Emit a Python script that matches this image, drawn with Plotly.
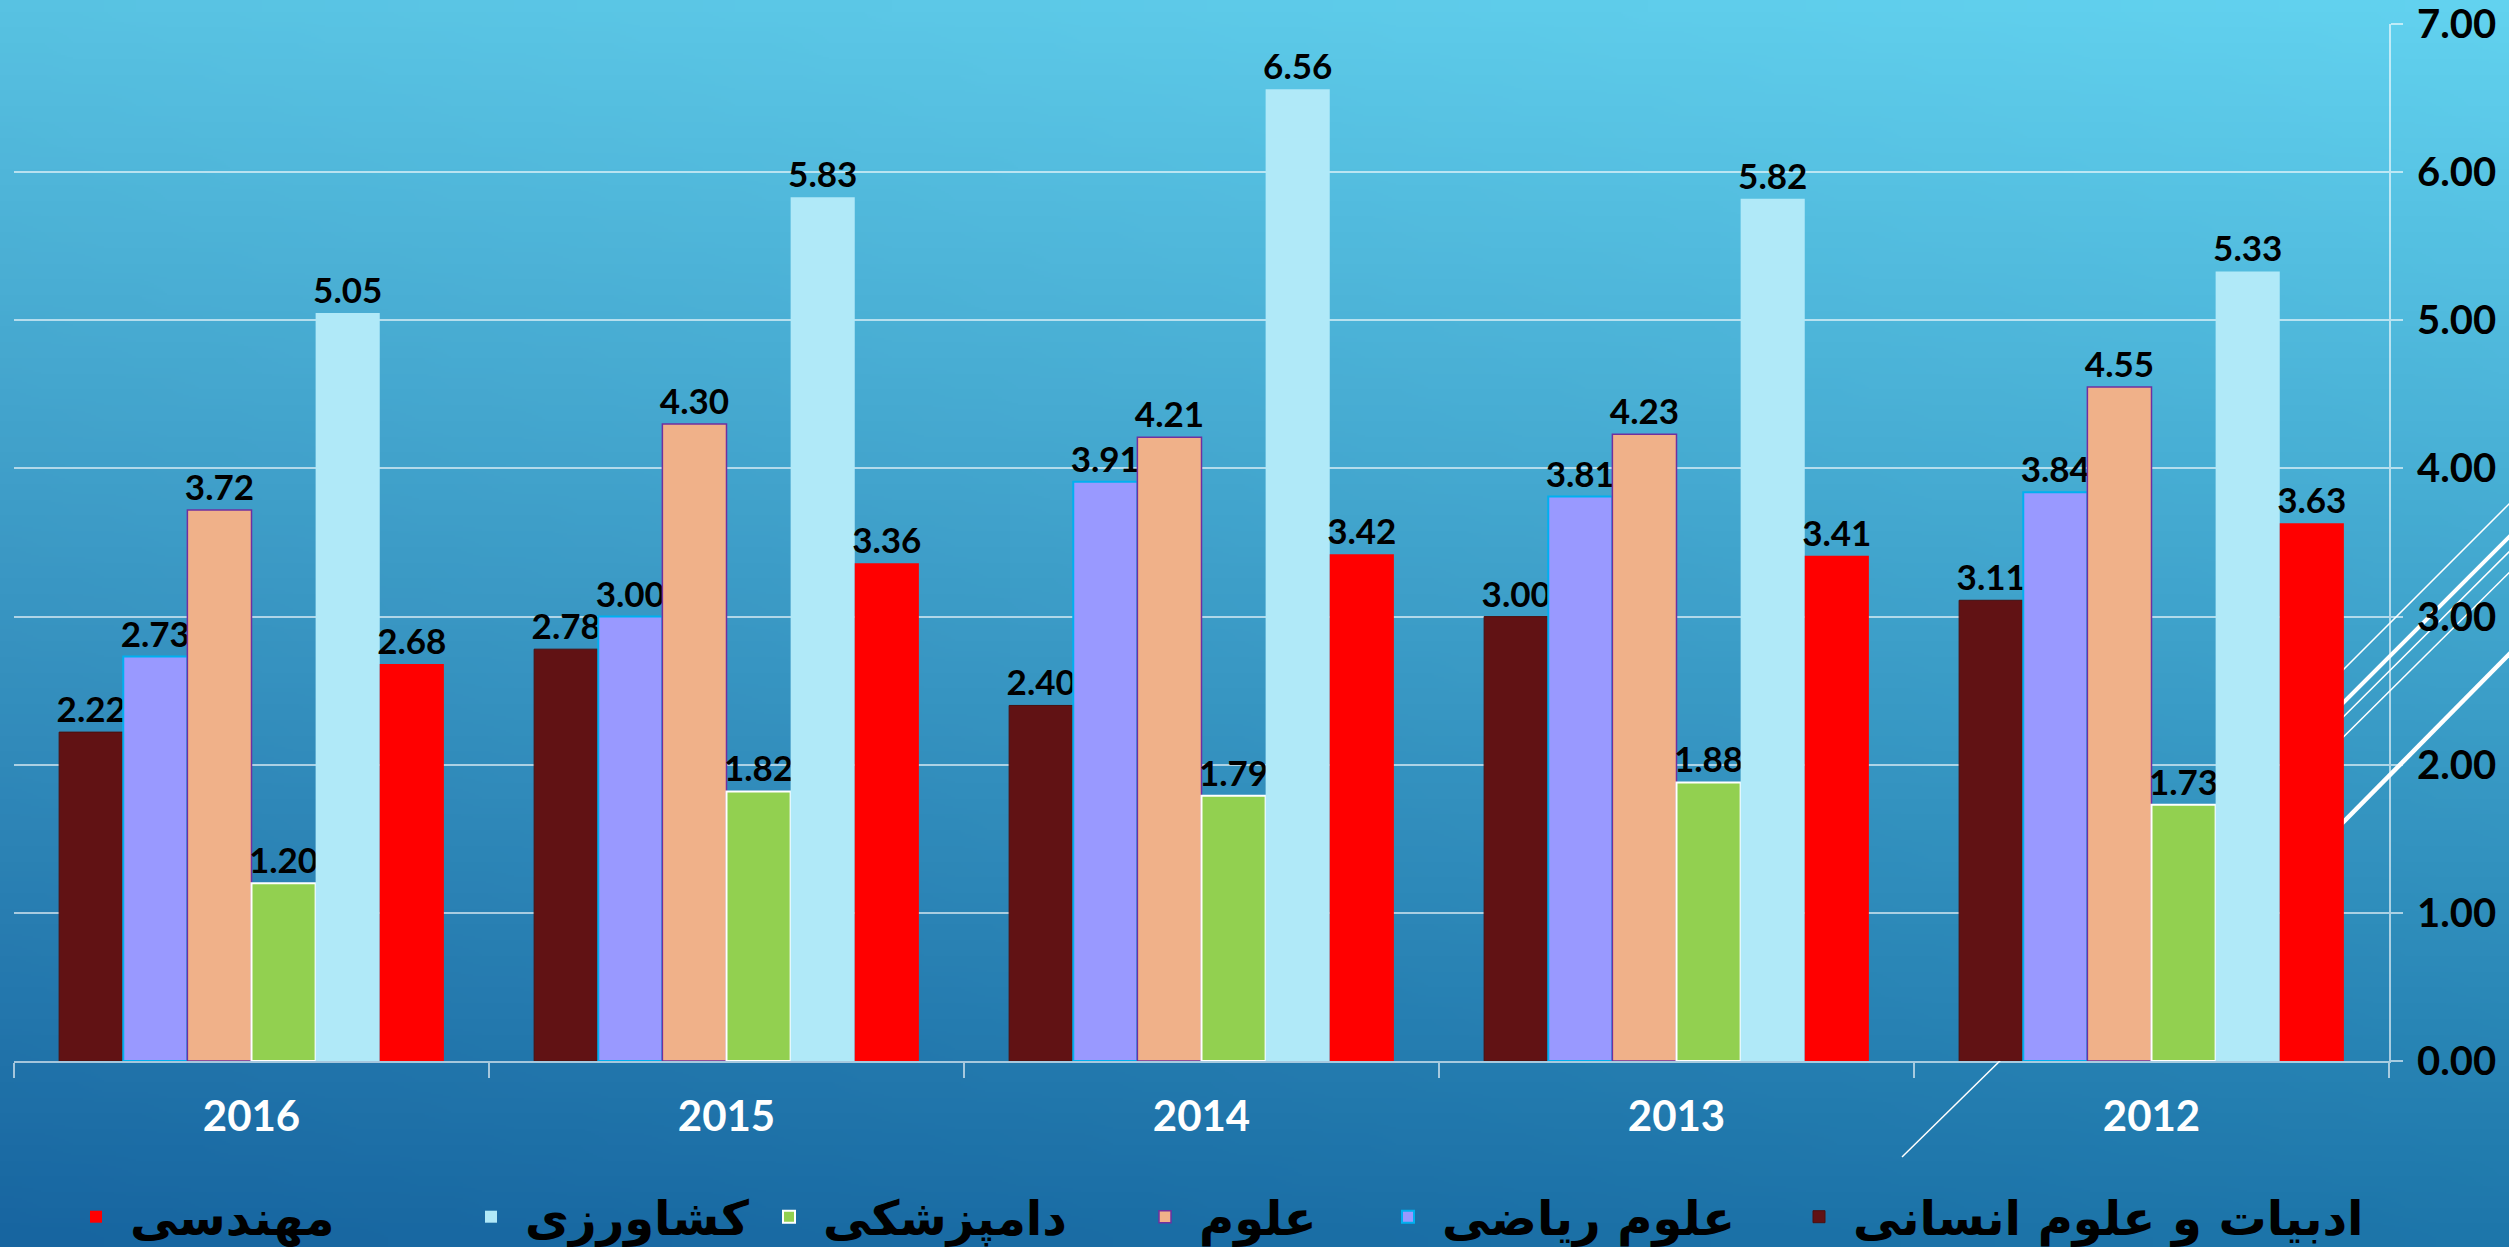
import zlib, struct, base64
import plotly.graph_objects as go

# ---------------- data ----------------
years = ["2016", "2015", "2014", "2013", "2012"]
adabiyat = [2.22, 2.78, 2.40, 3.00, 3.11]
riyazi = [2.73, 3.00, 3.91, 3.81, 3.84]
olum = [3.72, 4.30, 4.21, 4.23, 4.55]
dampezeshki = [1.20, 1.82, 1.79, 1.88, 1.73]
keshavarzi = [5.05, 5.83, 6.56, 5.82, 5.33]
mohandesi = [2.68, 3.36, 3.42, 3.41, 3.63]

series_names = ["ادبیات و علوم انسانی", "علوم ریاضی", "علوم", "دامپزشکی", "کشاورزی", "مهندسی"]
series_values = [adabiyat, riyazi, olum, dampezeshki, keshavarzi, mohandesi]
fill_colors = ["#611214", "#9999FF", "#F0B189", "#92D050", "#B0E9F8", "#FF0000"]
line_colors = ["#4a1010", "#00B0F0", "#7030A0", "#FFFFFF", "#B0E9F8", "#FF0000"]
line_widths = [1, 2, 1.5, 2, 0, 0]
# left edge (px) of each legend entry, same order as series
legend_left_px = [1803, 1392, 1149, 773, 475, 80]

# ---------------- geometry ----------------
W, H = 2509, 1247
L, R, T, B = 14, 120, 24, 186
PW, PH = W - L - R, H - T - B


def px(x):
    return (x - L) / PW


def py(y):
    return (H - B - y) / PH


# ---------------- gradient background PNG ----------------
def make_png(w, h, fn):
    rows = []
    for j in range(h):
        row = bytearray(b"\x00")
        for i in range(w):
            row += bytes(fn(i / (w - 1), j / (h - 1)))
        rows.append(bytes(row))
    raw = b"".join(rows)

    def chunk(t, d):
        c = struct.pack(">I", len(d)) + t + d
        return c + struct.pack(">I", zlib.crc32(t + d) & 0xFFFFFFFF)

    return (b"\x89PNG\r\n\x1a\n" + chunk(b"IHDR", struct.pack(">IIBBBBB", w, h, 8, 2, 0, 0, 0))
            + chunk(b"IDAT", zlib.compress(raw)) + chunk(b"IEND", b""))


TL, TR, BL, BR = (88, 194, 226), (98, 210, 239), (23, 101, 160), (29, 118, 170)


def grad(u, v):
    return [int(round((1 - u) * (1 - v) * TL[k] + u * (1 - v) * TR[k] + (1 - u) * v * BL[k] + u * v * BR[k]))
            for k in range(3)]


bg_uri = "data:image/png;base64," + base64.b64encode(make_png(80, 40, grad)).decode()

# ---------------- figure ----------------
fig = go.Figure()
legend_layout = {}
for i, (name, vals, fc, lc, lw, lx) in enumerate(zip(series_names, series_values, fill_colors,
                                                     line_colors, line_widths, legend_left_px)):
    lg = "legend" if i == 0 else f"legend{i + 1}"
    fig.add_trace(go.Bar(
        x=years, y=vals, name=name, legend=lg,
        marker=dict(color=fc, line=dict(color=lc, width=lw)),
        texttemplate="%{y:.2f}", textposition="outside",
        textfont=dict(family="Lato", size=35, color="black", weight="bold"),
        constraintext="none",
        cliponaxis=False,
    ))
    legend_layout[lg] = dict(orientation="h", x=px(lx - 18), xanchor="left", y=py(1217), yanchor="middle",
                             itemwidth=58,
                             font=dict(family="DejaVu Sans", size=48, color="black", weight="bold"),
                             bgcolor="rgba(0,0,0,0)", itemclick=False, itemdoubleclick=False)

# decorative diagonal lines (slide theme)
deco = [
    ((2300, 713), (2540, 473), 1.5),
    ((2300, 746), (2540, 506), 4),
    ((2300, 760), (2540, 521), 1.5),
    ((2300, 780), (2540, 542), 1.5),
    ((2300, 866), (2540, 623), 4.5),
    ((1902, 1157), (2010, 1051), 1.5),
]
shapes = []
for (x0, y0), (x1, y1), w in deco:
    shapes.append(dict(type="line", xref="paper", yref="paper", x0=px(x0), y0=py(y0), x1=px(x1), y1=py(y1),
                       line=dict(color="white", width=w), layer="below"))

grid_col = "rgba(255,255,255,0.6)"
pad = 6
fig.update_layout(
    width=W, height=H,
    margin=dict(l=L, r=R, t=T, b=B, autoexpand=False),
    paper_bgcolor="#3A9BCB",
    plot_bgcolor="rgba(0,0,0,0)",
    barmode="group", bargap=0.19, bargroupgap=0,
    images=[dict(source=bg_uri, xref="paper", yref="paper", x=px(-pad), y=py(-pad),
                 sizex=(W + 2 * pad) / PW, sizey=(H + 2 * pad) / PH,
                 xanchor="left", yanchor="top", sizing="stretch", layer="below")],
    shapes=shapes,
    showlegend=True,
    xaxis=dict(type="category", categoryorder="array", categoryarray=years, automargin=False,
               tickson="boundaries", ticks="outside", ticklen=15, tickwidth=2, tickcolor=grid_col,
               showline=True, linecolor=grid_col, linewidth=2, showgrid=False,
               ticklabelstandoff=18,
               tickfont=dict(family="Lato", size=42, color="white", weight="bold")),
    yaxis=dict(side="right", range=[0, 7], dtick=1, tickformat=".2f", automargin=False,
               ticklabeloverflow="allow",
               showgrid=True, gridcolor=grid_col, gridwidth=2, zeroline=False,
               showline=True, linecolor=grid_col, linewidth=2,
               ticks="outside", ticklen=12, tickwidth=2, tickcolor=grid_col, ticklabelstandoff=6,
               tickfont=dict(family="Lato", size=40, color="black", weight="bold")),
    **legend_layout,
)

fig.write_html("out.html", config={"displayModeBar": False},
               post_script="document.body.style.margin='0';document.body.style.overflow='hidden';")
